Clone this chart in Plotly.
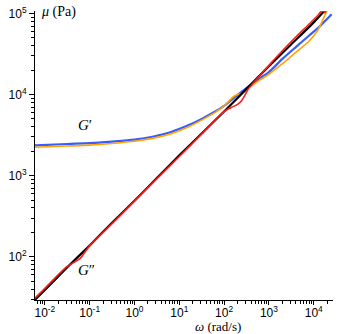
import plotly.graph_objects as go
import math

# G' (blue)
w_blue = [0.00603, 0.0316, 0.1, 0.316, 1.0, 2.51, 6.31, 15.8, 31.6, 63.1, 100, 158, 251, 398, 631, 1000, 2000, 3980, 7940, 12600, 25100]
g_blue = [2360, 2455, 2512, 2630, 2786, 3020, 3430, 4170, 5010, 6170, 7240, 8910, 10960, 13180, 15850, 18900, 27500, 38500, 53500, 66500, 97700]

# G' (orange)
w_orange = [0.00603, 0.0316, 0.1, 0.316, 1.0, 2.51, 6.31, 15.8, 31.6, 63.1, 100, 158, 200, 251, 398, 631, 1000, 2000, 3980, 7940, 12600, 17800, 22400]
g_orange = [2240, 2320, 2380, 2495, 2650, 2880, 3270, 3980, 4840, 6030, 7240, 9330, 10000, 10470, 12590, 15140, 17780, 23990, 33110, 45710, 63100, 95500, 126000]

# G'' (black)
w_black = [0.00603, 0.01, 0.0316, 0.1, 0.316, 1.0, 3.16, 10, 31.6, 100, 316, 1000, 3160, 10000, 16600]
g_black = [29.5, 38.9, 74.1, 138, 263, 490, 933, 1778, 3311, 6166, 11750, 22390, 41690, 77620, 104700]

# G'' (red)
w_red = [0.00603, 0.01, 0.02, 0.0316, 0.0447, 0.063, 0.1, 0.316, 1.0, 3.16, 10, 31.6, 79.4, 110, 150, 200, 245, 290, 347, 437, 1000, 2000, 3980, 7940, 12600, 15800, 17800, 20000]
g_red = [30.9, 40.7, 60.3, 76.0, 85.1, 97.0, 137, 256, 485, 920, 1720, 3260, 5500, 6400, 7000, 7550, 8400, 9770, 11750, 13650, 22900, 34700, 51300, 74100, 95500, 112000, 102000, 120000]

x_ticks = [0.01, 0.1, 1, 10, 100, 1000, 10000]
x_ticktext = ["10<sup>-2</sup>", "10<sup>-1</sup>", "10<sup>0</sup>", "10<sup>1</sup>", "10<sup>2</sup>", "10<sup>3</sup>", "10<sup>4</sup>"]
y_ticks = [100, 1000, 10000, 100000]
y_ticktext = ["10<sup>2</sup>", "10<sup>3</sup>", "10<sup>4</sup>", "10<sup>5</sup>"]

def minor_vals(lo, hi):
    out = []
    for e in range(lo, hi + 1):
        for m in range(2, 10):
            out.append(m * 10 ** e)
    return out

serif = "Liberation Serif, DejaVu Serif, serif"

fig = go.Figure()
fig.add_trace(go.Scatter(x=w_blue, y=g_blue, mode="lines", line=dict(color="#3a5cff", width=2.2, shape="spline", smoothing=0.8), showlegend=False))
fig.add_trace(go.Scatter(x=w_orange, y=g_orange, mode="lines", line=dict(color="#ffa500", width=1.6, shape="spline", smoothing=0.6), showlegend=False))
fig.add_trace(go.Scatter(x=w_black, y=g_black, mode="lines", line=dict(color="black", width=2.2, shape="spline", smoothing=0.6), showlegend=False))
fig.add_trace(go.Scatter(x=w_red, y=g_red, mode="lines", line=dict(color="#ff1a1a", width=1.6, shape="spline", smoothing=0.5), showlegend=False))

fig.update_layout(
    width=339, height=334,
    margin=dict(l=35, r=6, t=11, b=34),
    plot_bgcolor="white", paper_bgcolor="white",
    font=dict(family="Liberation Sans, Arial, sans-serif", size=12, color="black"),
    xaxis=dict(type="log", range=[-2.22, 4.43], showgrid=False, zeroline=False,
               showline=True, linecolor="black", linewidth=1,
               ticks="outside", ticklen=4, tickcolor="black", ticklabelstandoff=-2,
               tickmode="array", tickvals=x_ticks, ticktext=x_ticktext,
               minor=dict(ticks="outside", ticklen=3, tickcolor="black", tickmode="array",
                          tickvals=minor_vals(-3, 4), showgrid=False)),
    yaxis=dict(type="log", range=[1.467, 5.03], showgrid=False, zeroline=False,
               showline=True, linecolor="black", linewidth=1,
               ticks="outside", ticklen=5, tickcolor="black",
               tickmode="array", tickvals=y_ticks, ticktext=y_ticktext,
               minor=dict(ticks="outside", ticklen=3, tickcolor="black", tickmode="array",
                          tickvals=minor_vals(1, 4), showgrid=False)),
    annotations=[
        dict(text="<i>μ</i> (Pa)", xref="paper", yref="paper", x=0.0, y=1.0, xshift=4, yshift=-1,
             xanchor="left", yanchor="middle", showarrow=False,
             font=dict(family=serif, size=14)),
        dict(text="<i>ω</i> (rad/s)", xref="paper", yref="paper", x=0.614, y=0, yshift=-26,
             xanchor="center", yanchor="middle", showarrow=False,
             font=dict(family=serif, size=13)),
        dict(text="<i>G</i>′", x=math.log10(0.078), y=math.log10(4160), xref="x", yref="y",
             showarrow=False, font=dict(family=serif, size=15)),
        dict(text="<i>G</i>″", x=math.log10(0.087), y=math.log10(68), xref="x", yref="y",
             showarrow=False, font=dict(family=serif, size=15)),
    ],
)

fig.write_html("out.html", config={"displayModeBar": False},
               post_script="document.body.style.margin='0';document.body.style.overflow='hidden';")
